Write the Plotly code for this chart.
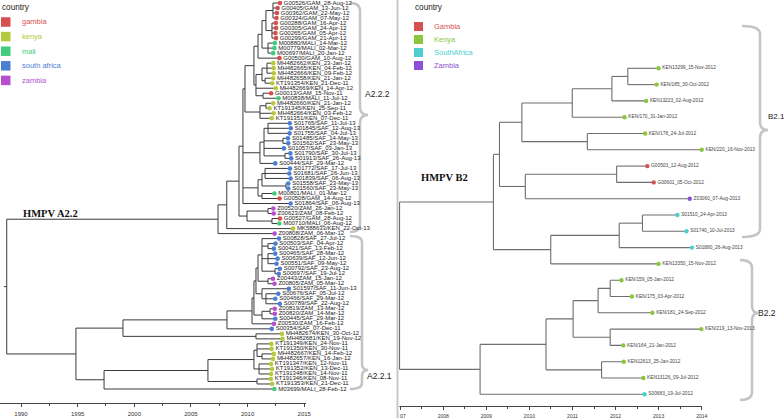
import plotly.graph_objects as go
from datetime import datetime

W, H = 784, 418

# ======================= DATA: HMPV A2.2 (left tree) =======================
left_tips = [
    "G00526/GAM_28-Aug-12", "G00405/GAM_13-Jun-12", "G00362/GAM_22-May-12", "G00324/GAM_07-May-12",
    "G00288/GAM_16-Apr-12", "G00305/GAM_24-Apr-12", "G00265/GAM_05-Apr-12", "G00299/GAM_21-Apr-12",
    "M00880/MALI_14-Mar-12", "M00779/MALI_02-Mar-12", "M00697/MALI_20-Jan-12", "G00500/GAM_10-Aug-12",
    "MH482662/KEN_23-Jan-12", "MH482665/KEN_04-Feb-12", "MH482666/KEN_09-Feb-12", "MH482658/KEN_21-Jan-12",
    "KT191354/KEN_21-Dec-11", "MH482669/KEN_14-Apr-12", "G00013/GAM_15-Nov-11", "M00838/MALI_11-Jul-12",
    "MH482660/KEN_21-Jan-12", "KT191345/KEN_25-Sep-11", "MH482664/KEN_03-Feb-12", "KT191351/KEN_07-Dec-11",
    "S01765/SAF_11-Jul-13", "S01845/SAF_12-Aug-13", "S01755/SAF_04-Jul-13", "S01485/SAF_14-May-13",
    "S01562/SAF_23-May-13", "S01057/SAF_03-Jan-13", "S01790/SAF_30-Jul-13", "S01913/SAF_26-Aug-13",
    "S00444/SAF_29-Mar-12", "S01772/SAF_17-Jul-13", "S01681/SAF_26-Jun-13", "S01839/SAF_06-Aug-13",
    "S01558/SAF_23-May-13", "S01560/SAF_23-May-13", "M00801/MALI_01-Mar-12", "G00508/GAM_14-Aug-12",
    "S01864/SAF_06-Aug-13", "Z00520/ZAM_26-Jan-12", "Z00623/ZAM_08-Feb-12", "G00527/GAM_28-Aug-12",
    "M00710/MALI_06-Aug-12", "MK588633/KEN_22-Oct-13", "Z00808/ZAM_06-Mar-12", "S00828/SAF_27-Jul-12",
    "S00503/SAF_04-Apr-12", "S00421/SAF_13-Feb-12", "S00465/SAF_28-Mar-12", "S00639/SAF_12-Jun-12",
    "S00551/SAF_09-May-12", "S00792/SAF_23-Aug-12", "S00697/SAF_19-Jul-12", "Z00443/ZAM_15-Jan-12",
    "Z00805/ZAM_05-Mar-12", "S01597/SAF_11-Jun-13", "S00676/SAF_05-Jul-12", "S00466/SAF_29-Mar-12",
    "S00789/SAF_22-Aug-12", "Z00819/ZAM_13-Mar-12", "Z00820/ZAM_14-Mar-12", "S00445/SAF_29-Mar-12",
    "Z00530/ZAM_16-Feb-12", "S00354/SAF_07-Dec-11", "MH482674/KEN_30-Oct-12", "MH482681/KEN_19-Nov-12",
    "KT191349/KEN_24-Nov-11", "KT191350/KEN_30-Nov-11", "MH482667/KEN_14-Feb-12", "MH482657/KEN_16-Jan-12",
    "KT191347/KEN_12-Nov-11", "KT191352/KEN_13-Dec-11", "KT191348/KEN_14-Nov-11", "KT191346/KEN_08-Nov-11",
    "KT191353/KEN_21-Dec-11", "M03699/MALI_28-Feb-12",
]
left_tip_country = (
    ["gambia"] * 8 + ["mali"] * 3 + ["gambia"] + ["kenya"] * 6 + ["gambia", "mali"] + ["kenya"] * 4
    + ["south africa"] * 14 + ["mali", "gambia", "south africa", "zambia", "zambia", "gambia", "mali",
                               "kenya", "zambia"]
    + ["south africa"] * 8 + ["zambia", "zambia"] + ["south africa"] * 4 + ["zambia", "zambia",
                                                                            "south africa", "zambia",
                                                                            "south africa"]
    + ["kenya"] * 11 + ["mali"]
)
left_tip_parent = [
    "Ng1", "Ng1", "Ng1", "Ng1", "Ng2", "Ng2", "Ng2", "Ng2", "Nm", "Nm", "Nm", "N4",
    "Nk1", "Nk1", "Nk1", "Nk2", "Nk2", "N5", "Ngm", "Ngm", "N6a", "N6a", "N6", "N6",
    "N8b", "N8b", "N8b", "N8c", "N8c", "N8a", "N8d", "N8d", "N8", "N9b", "N9b", "N9b",
    "N9c", "N9c", "N9d", "N9d", "N1", "Nz", "Nz", "Ngm2", "Ngm2", "A1", "A", "E1a1",
    "E1p1", "E1p1", "E1p2", "E1p2", "E1p2", "E1p3", "E1p3", "E1a2", "E1a2", "E1b", "E1b1", "E1b1",
    "E1b1", "E2z", "E2z", "E2", "E", "D", "Nmh", "Nmh", "H1", "H1", "H1p", "H1p",
    "H2", "H2", "H2", "Hk", "Hk", "F",
]
left_node_id = [
    "root", "A", "A1", "A2", "N1", "N2", "N3", "N4", "N4a", "Ng", "Ng1", "Ng2", "Nm",
    "N5", "Nk", "Nk1", "Nk2", "Ngm", "N6", "N6a", "N8", "N8a", "N8b", "N8c", "N8d",
    "N9", "N9a", "N9b", "N9c", "N9d", "A4", "Nz", "Ngm2",
    "B", "C", "D", "E", "E1p", "E1", "E1a", "E1a1", "E1p1", "E1p2", "E1p3", "E1a2",
    "E1b", "E1b1", "E2", "E2z", "Nmh", "F", "G", "H", "H1", "H1p", "H2", "Hk",
]
left_node_parent = [
    None, "root", "A", "A1", "A2", "N1", "N2", "N3", "N4", "N4a", "Ng", "Ng", "N4a",
    "N3", "N5", "Nk", "Nk", "N5", "N2", "N6", "N1", "N8", "N8a", "N8a", "N8a",
    "N1", "N9", "N9a", "N9a", "N9", "A2", "A4", "A4",
    "root", "B", "C", "D", "E", "E1p", "E1", "E1a", "E1a1", "E1a1", "E1a1", "E1a",
    "E1", "E1b", "E1p", "E2", "C", "B", "F", "G", "H", "H1", "H", "G",
]
left_node_year = [
    1988.54, 2007.19, 2007.96, 2009.04, 2009.39, 2009.57, 2010.36, 2010.72, 2011.07, 2011.42, 2012.04,
    2011.95, 2011.60,
    2010.54, 2011.07, 2011.51, 2011.34, 2011.16, 2010.89, 2011.42, 2010.89, 2011.25, 2011.60, 2012.92,
    2013.10,
    2010.72, 2011.07, 2011.34, 2013.19, 2011.07, 2009.75, 2011.60, 2011.95,
    1994.65, 1998.80, 2007.98, 2010.19, 2010.36, 2010.54, 2010.72, 2011.07, 2011.60, 2011.60, 2012.22,
    2011.60,
    2011.07, 2011.42, 2011.07, 2011.78, 2010.54, 1997.13, 2006.30, 2010.36, 2010.63, 2011.07, 2010.81,
    2010.63,
]
left_countries = ["gambia", "kenya", "mali", "south africa", "zambia"]
left_country_colors = ["#d64f4f", "#b4c93c", "#40cc7c", "#4b7fd4", "#b54fd0"]
left_tick_years = [1990, 1995, 2000, 2005, 2010, 2015]

# ======================= DATA: HMPV B2 (right tree) =======================
right_tips = [
    "KEN13299_15-Nov-2012", "KEN/185_30-Oct-2012", "KEN13223_02-Aug-2012", "KEN/170_31-Jan-2012",
    "KEN/178_24-Jul-2012", "KEN/220_16-Nov-2013", "G00503_12-Aug-2012", "G00601_05-Oct-2012",
    "Z03060_07-Aug-2013", "S01510_24-Apr-2013", "S01740_10-Jul-2013", "S01880_26-Aug-2013",
    "KEN13350_15-Nov-2012", "KEN/159_05-Jan-2012", "KEN/175_03-Apr-2012", "KEN/181_24-Sep-2012",
    "KEN/219_13-Nov-2013", "KEN/164_21-Jan-2012", "KEN12613_25-Jan-2012", "KEN13126_09-Jul-2012",
    "S00683_19-Jul-2012",
]
right_tip_country = (
    ["Kenya"] * 6 + ["Gambia", "Gambia", "Zambia"] + ["SouthAfrica"] * 3 + ["Kenya"] * 8 + ["SouthAfrica"]
)
right_tip_parent = [
    "Pb", "Pb", "Pa", "P0", "P178", "P178", "Pg", "Pg", "Pgz", "Qs2", "Qs2", "Qs",
    "Q", "Vp", "Vp", "V", "W", "W", "U", "U", "R",
]
right_node_id = ["root", "P3", "P2", "P1", "P0", "Pa", "Pb", "P178", "Pgz", "Pg", "Q", "Qs", "Qs2",
                 "R", "S", "T", "V", "Vp", "W", "U"]
right_node_parent = [None, "root", "P3", "P2", "P1", "P0", "Pa", "P1", "P2", "Pgz", "P3", "Q", "Qs",
                     "root", "R", "S", "T", "V", "T", "S"]
right_node_year = [2006.86, 2009.04, 2009.18, 2009.70, 2010.87, 2011.79, 2012.16, 2011.22, 2009.78,
                   2011.90, 2010.37, 2011.96, 2012.50,
                   2008.73, 2010.26, 2010.89, 2011.47, 2011.75, 2011.75, 2011.55]
right_countries = ["Gambia", "Kenya", "SouthAfrica", "Zambia"]
right_country_colors = ["#d65252", "#8cc63e", "#4dcfcf", "#8d4fd6"]
right_tick_years = [2007, 2008, 2009, 2010, 2011, 2012, 2013, 2014]


# ======================= helpers =======================
def decimal_year(label, fmt):
    d = datetime.strptime(label.split("_")[-1], fmt)
    leap = d.year % 4 == 0
    return d.year + (d.timetuple().tm_yday - 0.5) / (366 if leap else 365)


def tree_geometry(tips, tip_parent, tip_x, node_id, node_parent, node_year, stub):
    children = {n: [] for n in node_id}
    ypos, xpos = {}, {}
    for i, (t, p) in enumerate(zip(tips, tip_parent)):
        key = ("t", i)
        ypos[key] = i + 1
        xpos[key] = tip_x[i]
        children[p].append(key)
    for n, p, yr in zip(node_id, node_parent, node_year):
        xpos[("n", n)] = yr
        if p is not None:
            children[p].append(("n", n))

    def gety(key):
        if key in ypos:
            return ypos[key]
        ys = [gety(c) for c in children[key[1]]]
        ypos[key] = (min(ys) + max(ys)) / 2
        return ypos[key]

    xs, ys = [], []
    parent_of = {("t", i): p for i, p in enumerate(tip_parent)}
    parent_of.update({("n", n): p for n, p in zip(node_id, node_parent)})
    for key, p in parent_of.items():
        y = gety(key)
        if p is None:
            xs += [xpos[key] - stub, xpos[key], None]
            ys += [y, y, None]
        else:
            xs += [xpos[("n", p)], xpos[key], None]
            ys += [y, y, None]
    for n in node_id:
        cy = [gety(c) for c in children[n]]
        xs += [xpos[("n", n)], xpos[("n", n)], None]
        ys += [min(cy), max(cy), None]
    return xs, ys, [ypos[("t", i)] for i in range(len(tips))]


# ======================= build =======================
left_tip_x = [decimal_year(t, "%d-%b-%y") for t in left_tips]
right_tip_x = [decimal_year(t, "%d-%b-%Y") for t in right_tips]

lxs, lys, l_tip_y = tree_geometry(left_tips, left_tip_parent, left_tip_x, left_node_id,
                                  left_node_parent, left_node_year, 0.25)
rxs, rys, r_tip_y = tree_geometry(right_tips, right_tip_parent, right_tip_x, right_node_id,
                                  right_node_parent, right_node_year, 0.0)

lcol = dict(zip(left_countries, left_country_colors))
rcol = dict(zip(right_countries, right_country_colors))

fig = go.Figure()
fig.add_trace(go.Scatter(x=lxs, y=lys, mode="lines", line=dict(color="#3a3a3a", width=1),
                         hoverinfo="skip", showlegend=False, xaxis="x", yaxis="y"))
fig.add_trace(go.Scatter(
    x=left_tip_x, y=l_tip_y, mode="markers+text", text=left_tips, textposition="middle right",
    marker=dict(size=4.6, color=[lcol[c] for c in left_tip_country]),
    textfont=dict(size=6, color="#222222", family="Liberation Sans"),
    cliponaxis=False, showlegend=False, xaxis="x", yaxis="y"))

fig.add_trace(go.Scatter(x=rxs, y=rys, mode="lines", line=dict(color="#6e6e6e", width=1.1),
                         hoverinfo="skip", showlegend=False, xaxis="x2", yaxis="y2"))
fig.add_trace(go.Scatter(
    x=right_tip_x, y=r_tip_y, mode="markers+text", text=right_tips, textposition="middle right",
    marker=dict(size=4.4, color=[rcol[c] for c in right_tip_country]),
    textfont=dict(size=4.8, color="#444444", family="Liberation Sans"),
    cliponaxis=False, showlegend=False, xaxis="x2", yaxis="y2"))

# ---- axes (pixel calibration) ----
L_OFF, L_PPY, L_T0PX = -0.2, 11.33, 21.0          # 1990 tick at px 21
R_OFF, R_PPY, R_T0PX = -0.125, 43.07, 400.2       # 2007 tick at px 400.2
l_base = left_tick_years[0] + L_OFF
r_base = right_tick_years[0] + R_OFF
L_X0, L_X1 = 0, 306
R_X0, R_X1 = 399, 702
L_YB, R_YB = 403, 405.7
l_step = 386 / 77
r_step = 16.3

axis_common = dict(showgrid=False, zeroline=False, showline=True, linecolor="#444", linewidth=1,
                   ticks="outside", ticklen=3, tickcolor="#444", tickwidth=1, ticklabelstandoff=2)

fig.update_layout(
    width=W, height=H, margin=dict(l=0, r=0, t=0, b=0, autoexpand=False),
    paper_bgcolor="white", plot_bgcolor="rgba(0,0,0,0)",
    xaxis=dict(domain=[L_X0 / W, L_X1 / W],
               range=[l_base + (L_X0 - L_T0PX) / L_PPY, l_base + (L_X1 - L_T0PX) / L_PPY],
               tickmode="array", tickvals=[y + L_OFF for y in left_tick_years],
               ticktext=[str(y) for y in left_tick_years],
               minor=dict(tickmode="array", tickvals=[y + L_OFF + 2.5 for y in left_tick_years[:-1]],
                          ticks="outside", ticklen=2, tickcolor="#444"),
               tickfont=dict(size=6, color="#333", family="Liberation Sans"),
               anchor="y", **axis_common),
    yaxis=dict(domain=[(H - L_YB) / H, 1], range=[1 + (L_YB - 3) / l_step, 1 - 3 / l_step],
               visible=False, anchor="x"),
    xaxis2=dict(domain=[R_X0 / W, R_X1 / W],
                range=[r_base + (R_X0 - R_T0PX) / R_PPY, r_base + (R_X1 - R_T0PX) / R_PPY],
                tickmode="array", tickvals=[y + R_OFF for y in right_tick_years],
                ticktext=[str(y) for y in right_tick_years],
                minor=dict(tickmode="array", tickvals=[y + R_OFF + 0.5 for y in right_tick_years[:-1]],
                           ticks="outside", ticklen=2, tickcolor="#444"),
                tickfont=dict(size=5, color="#333", family="Liberation Sans"),
                anchor="y2", **axis_common),
    yaxis2=dict(domain=[(H - R_YB) / H, 1], range=[1 + (R_YB - 68.3) / r_step, 1 - 68.3 / r_step],
                visible=False, anchor="x2"),
)


def px(x):
    return x / W


def py(y):
    return 1 - y / H


shapes, annots = [], []


# ---- legends (drawn from the country arrays) ----
def legend(x0, y_title, y_first, dy, names, colors, size, tsize, txt_dx):
    annots.append(dict(x=px(x0 - 1), y=py(y_title), xref="paper", yref="paper", text="country",
                       showarrow=False, xanchor="left", yanchor="middle",
                       font=dict(size=tsize, color="#222", family="Liberation Sans")))
    for i, (n, c) in enumerate(zip(names, colors)):
        yc = y_first + i * dy
        shapes.append(dict(type="rect", xref="paper", yref="paper", x0=px(x0), x1=px(x0 + size),
                           y0=py(yc - size / 2), y1=py(yc + size / 2), fillcolor=c, line=dict(width=0)))
        annots.append(dict(x=px(x0 + txt_dx), y=py(yc), xref="paper", yref="paper", text=n,
                           showarrow=False, xanchor="left", yanchor="middle",
                           font=dict(size=7.5, color=c, family="Liberation Sans")))


legend(1, 7.5, 22, 14.6, left_countries, left_country_colors, 9.5, 8.2, 19)
legend(414, 7.5, 26.5, 13, right_countries, right_country_colors, 9, 8.2, 18)


# ---- clade brackets ----
def brace(x_end, x_bar, x_tip, y0, ym, y1, r=8):
    pts = lambda x, y: f"{px(x)},{py(y)}"
    return (f"M {pts(x_end, y0)} Q {pts(x_bar, y0)} {pts(x_bar, y0 + r)} "
            f"L {pts(x_bar, ym - r)} Q {pts(x_bar, ym)} {pts(x_tip, ym)} "
            f"Q {pts(x_bar, ym)} {pts(x_bar, ym + r)} L {pts(x_bar, y1 - r)} "
            f"Q {pts(x_bar, y1)} {pts(x_end, y1)}")


for path in [brace(350, 360, 368, 3, 115, 232), brace(350, 362, 368, 236, 370, 389, r=6),
             brace(742, 760, 768, 26, 130, 237), brace(740, 752, 758, 260, 313, 400)]:
    shapes.append(dict(type="path", path=path, xref="paper", yref="paper",
                       line=dict(color="#c4c4c4", width=2.5), layer="below"))

for txt, x, y, fs in [("A2.2.2", 364, 94, 8.5), ("A2.2.1", 366, 376, 8.5), ("B2.1", 767, 117, 8),
                      ("B2.2", 757, 313, 8.5)]:
    annots.append(dict(x=px(x), y=py(y), xref="paper", yref="paper", text=txt, showarrow=False,
                       xanchor="left", yanchor="middle", borderpad=0,
                       font=dict(size=fs, color="#222", family="Liberation Sans")))

# ---- tree titles ----
for txt, x, y in [("HMPV A2.2", 21, 213), ("HMPV B2", 419, 177)]:
    annots.append(dict(x=px(x), y=py(y), xref="paper", yref="paper", text=f"<b>{txt}</b>",
                       showarrow=False, xanchor="left", yanchor="middle",
                       font=dict(size=10.5, color="#111", family="Liberation Serif")))

# ---- panel separator (also hides the clipped part of the first right tick label) ----
shapes.append(dict(type="rect", xref="paper", yref="paper", x0=px(385), x1=px(399.8), y0=0, y1=py(406.5),
                   fillcolor="white", line=dict(width=0), layer="above"))
shapes.append(dict(type="line", xref="paper", yref="paper", x0=px(397.5), x1=px(397.5), y0=0, y1=1,
                   line=dict(color="#c8c8c8", width=2), layer="above"))

fig.update_layout(shapes=shapes, annotations=annots)
fig.write_html("out.html", config={"displayModeBar": False, "staticPlot": True},
               post_script="document.body.style.margin='0px';document.body.style.overflow='hidden';")
